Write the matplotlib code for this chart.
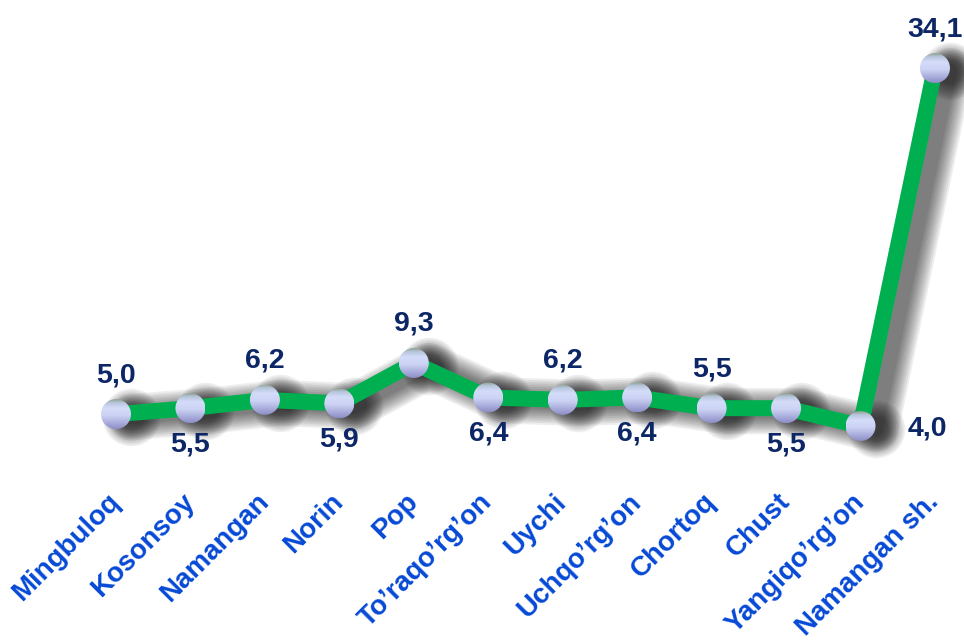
import matplotlib
matplotlib.use('Agg')
import matplotlib.pyplot as plt
import numpy as np
from matplotlib.colors import LinearSegmentedColormap
from matplotlib.patches import Circle
from matplotlib.transforms import IdentityTransform, offset_copy, ScaledTranslation

plt.rcParams['font.family'] = ['Liberation Sans', 'DejaVu Sans']

# data
districts = ['Mingbuloq', 'Kosonsoy', 'Namangan', 'Norin', 'Pop', 'To\u2019raqo\u2019rg\u2019on',
             'Uychi', 'Uchqo\u2019rg\u2019on', 'Chortoq', 'Chust', 'Yangiqo\u2019rg\u2019on', 'Namangan sh.']
values = [5.0, 5.5, 6.2, 5.9, 9.3, 6.4, 6.2, 6.4, 5.5, 5.5, 4.0, 34.1]
label_side = ['above', 'below', 'above', 'below', 'above', 'below',
              'above', 'below', 'above', 'below', 'right', 'above']

GREEN = '#00b050'
NAVY = '#0d2766'
BLUE = '#0649d6'

fig = plt.figure(figsize=(9.64, 6.41), dpi=100)
ax = fig.add_axes([0, 0.2612, 1, 0.7388])
ax.set_xlim(-1.558, 11.39)
ax.set_ylim(0, 39.83)
for s in ax.spines.values():
    s.set_visible(False)
ax.yaxis.set_visible(False)

x = np.arange(len(values))

# blurred drop shadow under line and markers
shadow_tr = offset_copy(ax.transData, fig=fig, x=15, y=-3, units='dots')
for k in range(10):
    ax.plot(x, values, color='black', lw=10 + k * 2.6, alpha=0.065,
            marker='o', ms=18 + k * 2.6, mew=0, solid_capstyle='round',
            solid_joinstyle='round', transform=shadow_tr, zorder=1)

ax.plot(x, values, color=GREEN, lw=11.5, solid_joinstyle='round', zorder=2)

# spherical-looking markers: vertical gradient clipped to a circle
cmap = LinearSegmentedColormap.from_list('ball', [
    (0.0, '#8ea290'), (0.12, '#b8c6dc'), (0.3, '#d4dcfa'),
    (0.55, '#cbd2f4'), (1.0, '#8e8ec6')])
grad = np.linspace(0, 1, 64).reshape(-1, 1)
r = 15
inv = ax.transData.inverted()
for xi, yi in zip(x, values):
    px, py = ax.transData.transform((xi, yi))
    (x0, y0) = inv.transform((px - r, py - r))
    (x1, y1) = inv.transform((px + r, py + r))
    im = ax.imshow(grad, cmap=cmap, extent=[x0, x1, y0, y1], aspect='auto',
                   origin='upper', zorder=3, interpolation='bilinear')
    im.set_clip_path(Circle((px, py), r, transform=IdentityTransform()))
ax.set_xlim(-1.558, 11.39)
ax.set_ylim(0, 39.83)

offsets = {'above': (0, 39), 'below': (0, -36), 'right': (67, -2)}
for xi, yi, v, side in zip(x, values, values, label_side):
    ax.annotate(f'{v:.1f}'.replace('.', ','), (xi, yi), xytext=offsets[side],
                textcoords='offset pixels', ha='center', va='center',
                fontsize=20.5, fontweight='bold', color=NAVY, zorder=4,
                annotation_clip=False)

ax.set_xticks(x)
ax.set_xticklabels(districts, rotation=45, ha='right', rotation_mode='anchor',
                   fontsize=20, fontweight='bold', color=BLUE)
ax.tick_params(axis='x', length=0, pad=11)
shift = ScaledTranslation(-9 / 100, 0, fig.dpi_scale_trans)
for lab in ax.get_xticklabels():
    lab.set_transform(lab.get_transform() + shift)

fig.savefig('out.png', dpi=100)
